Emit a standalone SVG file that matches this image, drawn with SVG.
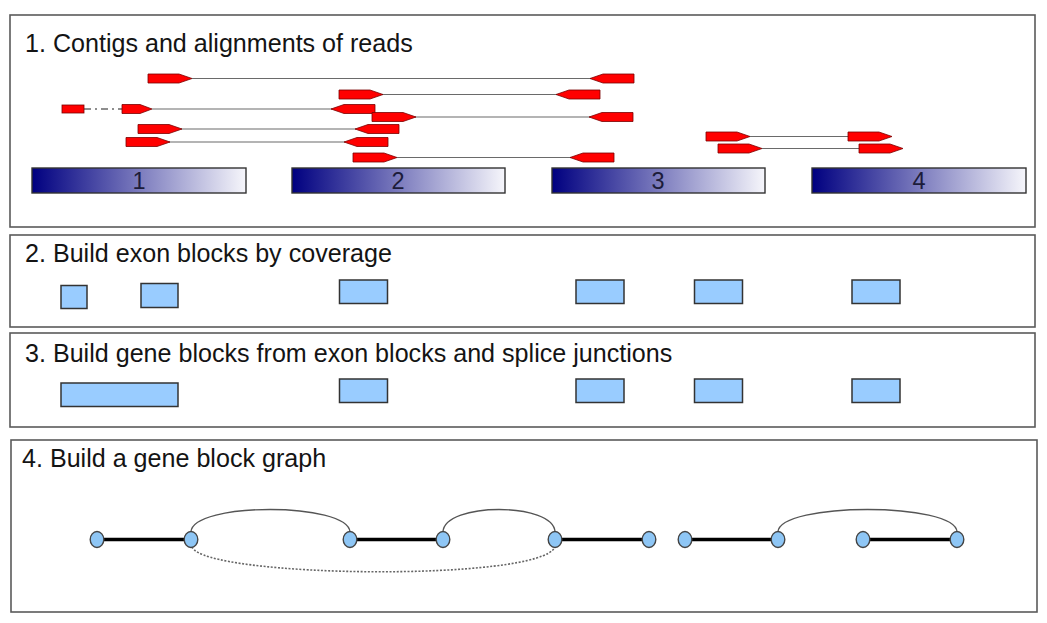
<svg xmlns="http://www.w3.org/2000/svg" xmlns:xlink="http://www.w3.org/1999/xlink" width="1047" height="623" viewBox="0 0 1047 623">
<defs>
<linearGradient id="contigGrad" x1="0" y1="0" x2="1" y2="0">
<stop offset="0" stop-color="#000080"/>
<stop offset="1" stop-color="#f6f6fb"/>
</linearGradient>
<path id="fwd" d="M0,0 H31 L44,4.5 L31,9 H0 Z"/>
<path id="rev" d="M44,0 H13 L0,4.5 L13,9 H44 Z"/>
<path id="fwdShort" d="M0,0 H18 L30,4.5 L18,9 H0 Z"/>
</defs>
<style>
.panel{fill:#ffffff;stroke:#5a5a5a;stroke-width:1.6}
.title{font-family:"Liberation Sans",Arial,sans-serif;font-size:25.1px;fill:#141414}
.contig{fill:url(#contigGrad);stroke:#333333;stroke-width:1.4}
.cnum{font-family:"Liberation Sans",Arial,sans-serif;font-size:23.5px;fill:#1c1c3a;text-anchor:middle}
.read{fill:#ff0000;stroke:#7a0000;stroke-width:0.8}
.pair{stroke:#6a6a6a;stroke-width:1.1;fill:none}
.dashdot{stroke:#6a6a6a;stroke-width:1.3;fill:none;stroke-dasharray:7,4,2,4}
.block{fill:#99ccff;stroke:#333333;stroke-width:1.5}
.gnode{fill:#8ec6f5;stroke:#444444;stroke-width:1.4}
.thick{stroke:#000000;stroke-width:3.5;fill:none}
.arc{stroke:#555555;stroke-width:1.4;fill:none}
.dotted{stroke:#666666;stroke-width:1.6;fill:none;stroke-dasharray:2,1.6}
</style>
<rect width="1047" height="623" fill="#ffffff"/>

<g id="panel1">
<rect class="panel" x="10" y="15" width="1025" height="212"/>
<text class="title" x="25" y="52">1. Contigs and alignments of reads</text>
</g>
<g id="contig1"><rect class="contig" x="32" y="168" width="214" height="25"/><text class="cnum" x="139" y="189">1</text></g>
<g id="contig2"><rect class="contig" x="292" y="168" width="213" height="25"/><text class="cnum" x="398" y="189">2</text></g>
<g id="contig3"><rect class="contig" x="552" y="168" width="213" height="25"/><text class="cnum" x="658" y="189">3</text></g>
<g id="contig4"><rect class="contig" x="812" y="168" width="214" height="25"/><text class="cnum" x="919" y="189">4</text></g>

<g id="reads-connectors">
<line class="pair" x1="192" y1="78.5" x2="591" y2="78.5"/>
<line class="pair" x1="382" y1="94.5" x2="557" y2="94.5"/>
<line class="dashdot" x1="84" y1="109" x2="122" y2="109"/>
<line class="pair" x1="152" y1="109" x2="332" y2="109"/>
<line class="pair" x1="415" y1="117" x2="591" y2="117"/>
<line class="pair" x1="181" y1="129" x2="356" y2="129"/>
<line class="pair" x1="169" y1="142" x2="345" y2="142"/>
<line class="pair" x1="397" y1="157.5" x2="571" y2="157.5"/>
<line class="pair" x1="750" y1="136.5" x2="848" y2="136.5"/>
<line class="pair" x1="762" y1="148.5" x2="859" y2="148.5"/>
</g>

<g id="reads">
<use xlink:href="#fwd" class="read" x="148" y="74"/>
<use xlink:href="#rev" class="read" x="590" y="74"/>
<use xlink:href="#fwd" class="read" x="339" y="90"/>
<use xlink:href="#rev" class="read" x="556" y="90"/>
<rect class="read" x="62" y="105" width="22" height="8"/>
<use xlink:href="#fwdShort" class="read" x="122" y="104.5"/>
<use xlink:href="#rev" class="read" x="331" y="104.5"/>
<use xlink:href="#fwd" class="read" x="372" y="112.5"/>
<use xlink:href="#rev" class="read" x="589" y="112.5"/>
<use xlink:href="#fwd" class="read" x="138" y="124.5"/>
<use xlink:href="#rev" class="read" x="355" y="124.5"/>
<use xlink:href="#fwd" class="read" x="126" y="137.5"/>
<use xlink:href="#rev" class="read" x="344" y="137.5"/>
<use xlink:href="#fwd" class="read" x="353" y="153"/>
<use xlink:href="#rev" class="read" x="570" y="153"/>
<use xlink:href="#fwd" class="read" x="706" y="132"/>
<use xlink:href="#fwd" class="read" x="848" y="132"/>
<use xlink:href="#fwd" class="read" x="718" y="144"/>
<use xlink:href="#fwd" class="read" x="859" y="144"/>
</g>

<g id="panel2">
<rect class="panel" x="10" y="235" width="1025" height="92"/>
<text class="title" x="25" y="262">2. Build exon blocks by coverage</text>
<rect class="block" x="61" y="285.5" width="26" height="23"/>
<rect class="block" x="141" y="283.5" width="37" height="24"/>
<rect class="block" x="339.5" y="280" width="48" height="23.5"/>
<rect class="block" x="576" y="280" width="48" height="23.5"/>
<rect class="block" x="694.5" y="280" width="48" height="23.5"/>
<rect class="block" x="852" y="280" width="48" height="23.5"/>
</g>

<g id="panel3">
<rect class="panel" x="10" y="333" width="1025" height="94"/>
<text class="title" x="25" y="362">3. Build gene blocks from exon blocks and splice junctions</text>
<rect class="block" x="61" y="383" width="117" height="23.5"/>
<rect class="block" x="339.5" y="379" width="48" height="23.5"/>
<rect class="block" x="576" y="379" width="48" height="23.5"/>
<rect class="block" x="694.5" y="379" width="48" height="23.5"/>
<rect class="block" x="852" y="379" width="48" height="23.5"/>
</g>

<g id="panel4">
<rect class="panel" x="11" y="440" width="1026" height="172"/>
<text class="title" x="22" y="467">4. Build a gene block graph</text>
</g>

<g id="graph-edges">
<line class="thick" x1="97" y1="539.5" x2="191" y2="539.5"/>
<line class="thick" x1="350" y1="539.5" x2="443" y2="539.5"/>
<line class="thick" x1="555" y1="539.5" x2="649" y2="539.5"/>
<line class="thick" x1="685" y1="539.5" x2="778" y2="539.5"/>
<line class="thick" x1="863" y1="539.5" x2="957" y2="539.5"/>
<path class="arc" d="M191,532 C192,502 348,502 350,532"/>
<path class="arc" d="M443,532 C444,502 554,502 555,532"/>
<path class="arc" d="M778,532 C779,502 956,502 957,532"/>
<path class="dotted" d="M192,547 C205,578 540,582 555,547"/>
</g>

<g id="graph-nodes">
<ellipse class="gnode" cx="97" cy="539.5" rx="6.8" ry="8"/>
<ellipse class="gnode" cx="191" cy="539.5" rx="6.8" ry="8"/>
<ellipse class="gnode" cx="350" cy="539.5" rx="6.8" ry="8"/>
<ellipse class="gnode" cx="443" cy="539.5" rx="6.8" ry="8"/>
<ellipse class="gnode" cx="555" cy="539.5" rx="6.8" ry="8"/>
<ellipse class="gnode" cx="649" cy="539.5" rx="6.8" ry="8"/>
<ellipse class="gnode" cx="685" cy="539.5" rx="6.8" ry="8"/>
<ellipse class="gnode" cx="778" cy="539.5" rx="6.8" ry="8"/>
<ellipse class="gnode" cx="863" cy="539.5" rx="6.8" ry="8"/>
<ellipse class="gnode" cx="957" cy="539.5" rx="6.8" ry="8"/>
</g>
</svg>
